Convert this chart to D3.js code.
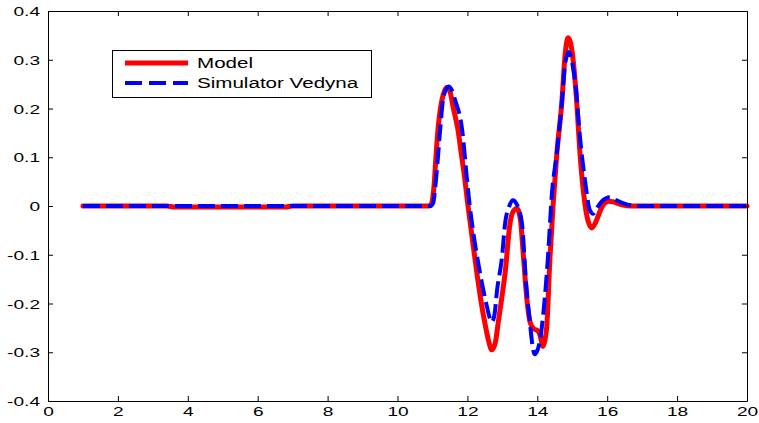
<!DOCTYPE html>
<html>
<head>
<meta charset="utf-8">
<script src="https://cdn.jsdelivr.net/npm/d3@7"></script>
<style>
  html, body { margin: 0; padding: 0; background: #fff; }
  svg { display: block; }
  text { font-family: "Liberation Sans", Arial, Helvetica, sans-serif; fill: #000; }
</style>
</head>
<body>
<svg id="chart" width="759" height="423"></svg>
<script>
// Model response
const modelX = [1, 3.4, 3.6, 6.8, 7.0, 10.9, 10.97, 11.0, 11.05, 11.1, 11.15, 11.2, 11.27, 11.35, 11.42, 11.5, 11.6,
  11.73, 11.83, 11.93, 12.0, 12.1, 12.27, 12.4, 12.5, 12.6, 12.7, 12.8, 12.88, 13.0, 13.08, 13.22, 13.32, 13.42,
  13.52, 13.6, 13.7, 13.8, 13.9, 14.0, 14.08, 14.16, 14.22, 14.27, 14.36, 14.45, 14.56, 14.7, 14.8, 14.88, 14.95,
  15.0, 15.13, 15.22, 15.36, 15.45, 15.56, 15.66, 15.8, 15.9, 16.05, 16.2, 16.4, 16.7, 20];
const modelY = [0, 0, -0.002, -0.002, 0, 0, 0.004, 0.012, 0.045, 0.1, 0.15, 0.185, 0.217, 0.237, 0.243, 0.235, 0.2,
  0.156, 0.105, 0.053, 0.01, -0.045, -0.137, -0.2, -0.24, -0.275, -0.295, -0.28, -0.24, -0.18, -0.137, -0.035, -0.01, -0.005,
  -0.03, -0.1, -0.19, -0.24, -0.252, -0.255, -0.265, -0.288, -0.275, -0.248, -0.11, 0.0, 0.109, 0.211, 0.314, 0.345, 0.335,
  0.314, 0.211, 0.109, 0.006, -0.03, -0.045, -0.035, -0.01, 0.004, 0.01, 0.008, 0.003, 0, 0];

// Vedyna simulator response
const simX = [1, 10.95, 11.02, 11.1, 11.22, 11.3, 11.38, 11.47, 11.55, 11.65, 11.85, 11.99, 12.07, 12.13, 12.36,
  12.56, 12.65, 12.7, 12.77, 12.85, 12.99, 13.08, 13.2, 13.3, 13.4, 13.56, 13.68, 13.79, 13.86, 13.92, 13.98, 14.05,
  14.13, 14.3, 14.42, 14.56, 14.7, 14.8, 14.9, 14.98, 15.1, 15.22, 15.39, 15.5, 15.6, 15.7, 15.85, 16.08, 16.25,
  16.45, 16.85, 20];
const simY = [0, 0, 0.006, 0.053, 0.156, 0.217, 0.238, 0.245, 0.238, 0.217, 0.156, 0.053, -0.002, -0.035, -0.137,
  -0.207, -0.232, -0.238, -0.225, -0.172, -0.105, -0.035, 0.0, 0.012, 0.005, -0.035, -0.16, -0.24, -0.285, -0.304, -0.3, -0.285,
  -0.248, -0.11, 0.027, 0.109, 0.211, 0.293, 0.316, 0.3, 0.244, 0.142, 0.039, -0.008, -0.016, -0.005, 0.01, 0.018, 0.012,
  0.006, 0, 0];

const xTicks = [0, 2, 4, 6, 8, 10, 12, 14, 16, 18, 20];
const xTickLabels = ["0", "2", "4", "6", "8", "10", "12", "14", "16", "18", "20"];
const yTicks = [-0.4, -0.3, -0.2, -0.1, 0, 0.1, 0.2, 0.3, 0.4];
const yTickLabels = ["-0.4", "-0.3", "-0.2", "-0.1", "0", "0.1", "0.2", "0.3", "0.4"];

const seriesNames = ["Model", "Simulator Vedyna"];
const seriesColors = ["#ff0000", "#0000ff"];

const svg = d3.select("#chart");
const plotLeft = 48, plotRight = 747, plotTop = 11, plotBottom = 401;
const sx = 1.47; // horizontal text stretch

const x = d3.scaleLinear().domain([0, 20]).range([plotLeft, plotRight]);
const y = d3.scaleLinear().domain([-0.4, 0.4]).range([plotBottom, plotTop]);

// Curves
const gen = d3.line().x(d => x(d[0])).y(d => y(d[1])).curve(d3.curveMonotoneX);

const model = modelX.map((v, i) => [v, modelY[i]]);
const sim = simX.map((v, i) => [v, simY[i]]);

svg.append("path").datum(model)
  .attr("d", gen).attr("fill", "none")
  .attr("stroke", seriesColors[0]).attr("stroke-width", 5)
  .attr("stroke-linejoin", "round").attr("stroke-linecap", "round");

svg.append("path").datum(sim)
  .attr("d", gen).attr("fill", "none")
  .attr("stroke", seriesColors[1]).attr("stroke-width", 4)
  .attr("stroke-dasharray", "17,6");

// Axes (box with inward ticks on all sides)
function styleAxis(g) {
  g.selectAll("path.domain").attr("stroke", "#000").attr("stroke-width", 1);
  g.selectAll(".tick line").attr("stroke", "#000").attr("stroke-width", 1);
}

const gx = svg.append("g").attr("transform", `translate(0,${plotBottom})`)
  .call(d3.axisBottom(x).tickValues(xTicks).tickFormat((d, i) => xTickLabels[i])
    .tickSizeInner(-5).tickSizeOuter(0).tickPadding(6));
styleAxis(gx);
gx.selectAll(".tick text")
  .attr("font-size", 13)
  .attr("font-family", "'Liberation Sans', Arial, sans-serif")
  .attr("transform", `scale(${sx},1)`);

const gy = svg.append("g").attr("transform", `translate(${plotLeft},0)`)
  .call(d3.axisLeft(y).tickValues(yTicks).tickFormat((d, i) => yTickLabels[i])
    .tickSizeInner(-5).tickSizeOuter(0).tickPadding(8));
styleAxis(gy);
gy.selectAll(".tick text")
  .attr("font-size", 13)
  .attr("font-family", "'Liberation Sans', Arial, sans-serif")
  .attr("x", -8 / sx)
  .attr("dy", "0.35em")
  .attr("transform", `scale(${sx},1)`);

const gt = svg.append("g").attr("transform", `translate(0,${plotTop})`)
  .call(d3.axisTop(x).tickValues(xTicks).tickFormat("").tickSizeInner(-5).tickSizeOuter(0));
styleAxis(gt);

const gr = svg.append("g").attr("transform", `translate(${plotRight},0)`)
  .call(d3.axisRight(y).tickValues(yTicks).tickFormat("").tickSizeInner(-5).tickSizeOuter(0));
styleAxis(gr);

// Legend
const lg = svg.append("g");
lg.append("rect").attr("x", 112.5).attr("y", 50.5).attr("width", 259).attr("height", 47)
  .attr("fill", "#fff").attr("stroke", "#000").attr("stroke-width", 1);
const rows = [63, 83];
seriesNames.forEach((name, i) => {
  lg.append("line").attr("x1", 125).attr("x2", 188).attr("y1", rows[i]).attr("y2", rows[i])
    .attr("stroke", seriesColors[i]).attr("stroke-width", i === 0 ? 5 : 4)
    .attr("stroke-dasharray", i === 0 ? null : "17,7");
  lg.append("text")
    .attr("transform", `translate(197,${rows[i] + 5}) scale(${sx},1)`)
    .attr("font-size", 14)
    .text(name);
});
</script>
</body>
</html>
